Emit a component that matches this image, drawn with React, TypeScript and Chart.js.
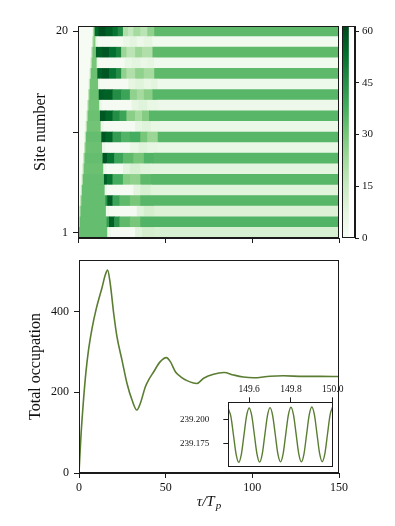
import React, { useEffect, useRef } from 'react';
import { Chart, registerables } from 'chart.js';

Chart.register(...registerables);

// ---------- Heatmap (site occupation vs time) ----------
// Each site row: list of [segment end time, occupation], segments start at the previous end (first at 0).
const HEAT_X_TICKS = [0, 50, 100, 150];
const SITE_TICKS = [1, 10.5, 20];
const CBAR_TICKS = [0, 15, 30, 45, 60];
const CBAR_MIN = 0;
const CBAR_MAX = 61.5;

const SITE_01 = [[0.7, 17], [17, 33], [19, 5], [33, 1], [37, 9], [44, 12], [150, 11]];
const SITE_02 = [[0.5, 0.3], [1.2, 18], [16.6, 33], [18, 42], [21, 56], [24, 44], [30, 34], [36, 30], [150, 36]];
const SITE_03 = [[0.9, 0.3], [1.6, 17], [16.2, 33], [18, 4], [34, 1], [38, 9], [44, 12], [150, 10]];
const SITE_04 = [[1.4, 0.3], [2.1, 18], [15.9, 33], [17, 44], [20, 57], [24, 40], [30, 34], [36, 30], [150, 35]];
const SITE_05 = [[1.8, 0.3], [2.5, 17], [15.5, 33], [17, 4], [32, 1], [36, 8], [42, 11], [150, 9]];
const SITE_06 = [[2.3, 0.3], [3, 18], [15.1, 33], [17, 56], [20, 52], [26, 38], [30, 28], [36, 26], [42, 34], [150, 35]];
const SITE_07 = [[2.8, 0.3], [3.5, 17], [14.7, 32], [16.5, 4], [26, 1], [30, 8], [36, 11], [42, 9], [150, 8]];
const SITE_08 = [[3.2, 0.3], [3.9, 18], [14.3, 33], [17, 58], [21, 52], [26, 40], [32, 34], [38, 30], [44, 36], [150, 35]];
const SITE_09 = [[3.7, 0.3], [4.4, 17], [14, 32], [16, 4], [30, 1], [35, 6], [40, 9], [46, 7], [150, 6]];
const SITE_10 = [[4.1, 0.3], [4.8, 18], [13.6, 33], [16, 58], [20, 55], [25, 42], [30, 36], [36, 38], [40, 30], [46, 24], [150, 35]];
const SITE_11 = [[4.6, 0.3], [5.3, 17], [13.2, 31], [15, 4], [33, 1], [37, 7], [42, 9], [47, 6], [150, 5]];
const SITE_12 = [[5.1, 0.3], [5.8, 18], [12.8, 32], [16, 58], [20, 55], [24, 46], [28, 40], [33, 27], [37, 22], [41, 28], [150, 35]];
const SITE_13 = [[5.5, 0.3], [6.2, 17], [12.4, 31], [14, 5], [31, 1], [35, 7], [40, 9], [46, 6], [150, 4]];
const SITE_14 = [[6.0, 0.3], [6.7, 18], [12.1, 32], [15, 57], [20, 56], [25, 46], [30, 40], [34, 26], [38, 22], [43, 27], [150, 35]];
const SITE_15 = [[6.4, 0.3], [7.1, 17], [11.7, 31], [13, 5], [29, 1], [33, 7], [38, 9], [42, 6], [46, 8], [150, 3.5]];
const SITE_16 = [[6.9, 0.3], [7.6, 18], [11.3, 32], [14, 56], [18, 58], [22, 52], [25, 46], [28, 26], [33, 20], [38, 26], [44, 22], [150, 34]];
const SITE_17 = [[7.4, 0.3], [8.1, 17], [10.9, 30], [12, 5], [27, 1], [31, 6], [36, 8], [40, 5], [44, 7], [150, 3]];
const SITE_18 = [[7.8, 0.3], [8.5, 18], [10.5, 31], [14, 56], [18, 58], [22, 53], [25, 48], [28, 24], [33, 18], [37, 24], [43, 20], [150, 34]];
const SITE_19 = [[8.3, 0.3], [9, 16], [10.2, 28], [11.5, 6], [26, 1], [30, 5], [34, 8], [38, 4], [43, 7], [150, 2.5]];
const SITE_20 = [[8.7, 0.3], [9.2, 18], [9.8, 30], [12, 54], [16, 59], [20, 56], [23, 52], [26, 46], [29, 20], [32, 16], [36, 22], [40, 18], [44, 26], [150, 34]];

const SITE_ROWS = [
  SITE_01, SITE_02, SITE_03, SITE_04, SITE_05, SITE_06, SITE_07, SITE_08, SITE_09, SITE_10,
  SITE_11, SITE_12, SITE_13, SITE_14, SITE_15, SITE_16, SITE_17, SITE_18, SITE_19, SITE_20,
];

// ---------- Total occupation ----------
const TIME = [0, 1.1, 2.6, 4, 5.5, 7.5, 10, 12, 13.2, 15.1, 16.5, 18, 20, 21.9, 24.8, 27.7, 30.6, 33.4, 35.4, 38.3, 40.2, 43.1, 46.9, 50.4, 52.7, 55.6, 58.5, 62.3, 68, 71.9, 77.6, 83.7, 89.1, 94.8, 100.6, 110.2, 117.9, 129.4, 139, 150];
const OCCUPATION = [0, 90, 181, 250, 305, 358, 408, 440, 458, 490, 503, 470, 396, 338, 280, 222, 181, 156, 173, 214, 231, 251, 276, 286, 276, 251, 239, 229, 222, 235, 245, 249, 243, 238, 236, 240, 241, 239.5, 239.5, 239.2];
const OCC_X_TICKS = [0, 50, 100, 150];
const OCC_Y_TICKS = [0, 200, 400];
const OCC_Y_MAX = 528;

// ---------- Inset ----------
const INSET_TIME = [
  149.5, 149.5125, 149.525, 149.5375, 149.55, 149.5625, 149.575, 149.5875,
  149.6, 149.6125, 149.625, 149.6375, 149.65, 149.6625, 149.675, 149.6875,
  149.7, 149.7125, 149.725, 149.7375, 149.75, 149.7625, 149.775, 149.7875,
  149.8, 149.8125, 149.825, 149.8375, 149.85, 149.8625, 149.875, 149.8875,
  149.9, 149.9125, 149.925, 149.9375, 149.95, 149.9625, 149.975, 149.9875, 150.0,
];
const INSET_OCC = [
  239.2110, 239.2028, 239.1831, 239.1635, 239.1552, 239.1635, 239.1835, 239.2035,
  239.2118, 239.2035, 239.1836, 239.1637, 239.1554, 239.1637, 239.1838, 239.2039,
  239.2122, 239.2039, 239.1839, 239.1639, 239.1556, 239.1639, 239.1841, 239.2043,
  239.2126, 239.2043, 239.1842, 239.1640, 239.1557, 239.1640, 239.1842, 239.2045,
  239.2128, 239.2045, 239.1843, 239.1641, 239.1558, 239.1641, 239.1844, 239.2047, 239.2130,
];
const INSET_X_TICKS = [149.6, 149.8, 150.0];
const INSET_Y_TICKS = [239.175, 239.2];
const INSET_X_RANGE = [149.5, 150.0];
const INSET_Y_RANGE = [239.1506, 239.2177];

// ---------- Styles ----------
const FONT = 'Liberation Serif';
const AXIS = '#1a1a1a';
const TEXT = '#111';
const LINE = '#5a7d32';
const GREENS = [
  [247, 252, 245], [229, 245, 224], [199, 233, 192], [161, 217, 155], [116, 196, 118],
  [65, 171, 93], [35, 139, 69], [0, 109, 44], [0, 68, 27],
];

function greens(v: number): string {
  let f = (v - CBAR_MIN) / (CBAR_MAX - CBAR_MIN);
  f = Math.max(0, Math.min(1, f));
  const p = f * (GREENS.length - 1);
  const i = Math.min(GREENS.length - 2, Math.floor(p));
  const k = p - i;
  const a = GREENS[i], b = GREENS[i + 1];
  const c = a.map((x, j) => Math.round(x + (b[j] - x) * k));
  return `rgb(${c[0]},${c[1]},${c[2]})`;
}

const framePlugin = {
  id: 'frame',
  afterDatasetsDraw(chart: any) {
    const { ctx, chartArea } = chart;
    if (!chartArea) return;
    const l = Math.round(chartArea.left) + 0.5;
    const t = Math.round(chartArea.top) + 0.5;
    const r = Math.round(chartArea.right) - 0.5;
    const b = Math.round(chartArea.bottom) - 0.5;
    ctx.save();
    ctx.strokeStyle = AXIS;
    ctx.lineWidth = 1;
    ctx.strokeRect(l, t, r - l, b - t);
    ctx.restore();
  },
};

const xTitlePlugin = {
  id: 'xTitle',
  afterDraw(chart: any) {
    const { ctx, chartArea } = chart;
    const cx = (chartArea.left + chartArea.right) / 2;
    const base = 256;
    ctx.save();
    ctx.fillStyle = TEXT;
    ctx.textBaseline = 'alphabetic';
    ctx.textAlign = 'left';
    const mainFont = `italic 15px "${FONT}"`;
    const subFont = `italic 11px "${FONT}"`;
    ctx.font = mainFont;
    const w1 = ctx.measureText('τ/T').width;
    ctx.font = subFont;
    const w2 = ctx.measureText('p').width;
    const x0 = cx - (w1 + w2 + 1) / 2;
    ctx.font = mainFont;
    ctx.fillText('τ/T', x0, base);
    ctx.font = subFont;
    ctx.fillText('p', x0 + w1 + 1, base + 3);
    ctx.restore();
  },
};

function grid(len = 5) {
  return { display: true, drawOnChartArea: false, drawTicks: true, tickLength: len, tickWidth: 1, tickColor: AXIS, offset: false };
}
const border = { display: true, color: AXIS, width: 1 };
const fixedTicks = (list: number[]) => (s: any) => { s.ticks = list.map((value) => ({ value })); };
const fitH = (h: number) => (s: any) => { s.height = h; s.paddingLeft = 0; s.paddingRight = 0; };
const fitW = (w: number) => (s: any) => { s.width = w; s.paddingTop = 0; s.paddingBottom = 0; };

function heatmapConfig(): any {
  const datasets = SITE_ROWS.map((row, i) => {
    const site = i + 1;
    let t0 = 0;
    const data = row.map(([t1, v]) => {
      const d = { x: [t0, t1], y: site, v };
      t0 = t1;
      return d;
    });
    return {
      data,
      backgroundColor: (c: any) => greens(c.raw ? c.raw.v : 0),
      borderWidth: 0,
      grouped: false,
      categoryPercentage: 1,
      barPercentage: 1,
    };
  });
  return {
    type: 'bar',
    data: { datasets },
    options: {
      indexAxis: 'y',
      animation: false,
      responsive: false,
      events: [],
      layout: { autoPadding: false, padding: { left: 0, top: 26, right: 56, bottom: 0 } },
      plugins: { legend: { display: false }, tooltip: { enabled: false } },
      scales: {
        x: {
          type: 'linear', position: 'bottom', min: 0, max: 150, offset: false,
          afterBuildTicks: fixedTicks(HEAT_X_TICKS),
          ticks: { callback: () => '' },
          grid: grid(5), border,
          afterFit: fitH(12),
        },
        y: {
          type: 'linear', min: 0.5, max: 20.5, offset: false,
          afterBuildTicks: fixedTicks(SITE_TICKS),
          ticks: {
            callback: (v: number) => (v === 1 || v === 20 ? String(v) : ''),
            font: { family: FONT, size: 12 }, color: TEXT, padding: 5,
          },
          grid: grid(5), border,
          title: { display: true, text: 'Site number', color: TEXT, font: { family: FONT, size: 16 }, padding: { top: 31, bottom: 0 } },
          afterFit: fitW(78),
        },
      },
    },
    plugins: [framePlugin],
  };
}

function colorbarConfig(): any {
  return {
    type: 'bar',
    data: {
      labels: ['scale'],
      datasets: [{
        data: [[CBAR_MIN, CBAR_MAX]],
        backgroundColor: (c: any) => {
          const { chart } = c;
          const area = chart.chartArea;
          if (!area) return greens(30);
          const g = chart.ctx.createLinearGradient(0, area.bottom, 0, area.top);
          GREENS.forEach((col, i) => g.addColorStop(i / (GREENS.length - 1), `rgb(${col[0]},${col[1]},${col[2]})`));
          return g;
        },
        borderWidth: 0,
        categoryPercentage: 1,
        barPercentage: 1,
      }],
    },
    options: {
      animation: false,
      responsive: false,
      events: [],
      layout: { autoPadding: false, padding: { left: 12, top: 26, right: 0, bottom: 12 } },
      plugins: { legend: { display: false }, tooltip: { enabled: false } },
      scales: {
        x: { display: false, offset: false },
        y: {
          position: 'right', min: CBAR_MIN, max: CBAR_MAX,
          afterBuildTicks: fixedTicks(CBAR_TICKS),
          ticks: { font: { family: FONT, size: 11 }, color: TEXT, padding: 3 },
          grid: grid(4), border,
          afterFit: fitW(40),
        },
      },
    },
    plugins: [framePlugin],
  };
}

function occupationConfig(): any {
  return {
    type: 'line',
    data: {
      datasets: [{
        data: TIME.map((x, i) => ({ x, y: OCCUPATION[i] })),
        borderColor: LINE, borderWidth: 1.6, pointRadius: 0,
        cubicInterpolationMode: 'monotone', fill: false,
      }],
    },
    options: {
      animation: false,
      responsive: false,
      events: [],
      layout: { autoPadding: false, padding: { left: 0, top: 10, right: 56, bottom: 0 } },
      plugins: { legend: { display: false }, tooltip: { enabled: false } },
      scales: {
        x: {
          type: 'linear', min: 0, max: 150,
          afterBuildTicks: fixedTicks(OCC_X_TICKS),
          ticks: { font: { family: FONT, size: 12 }, color: TEXT, padding: 3, maxRotation: 0 },
          grid: grid(5), border,
          afterFit: fitH(53),
        },
        y: {
          type: 'linear', min: 0, max: OCC_Y_MAX,
          afterBuildTicks: fixedTicks(OCC_Y_TICKS),
          ticks: { font: { family: FONT, size: 12 }, color: TEXT, padding: 5 },
          grid: grid(5), border,
          title: { display: true, text: 'Total occupation', color: TEXT, font: { family: FONT, size: 16 }, padding: { top: 26, bottom: 0 } },
          afterFit: fitW(79),
        },
      },
    },
    plugins: [framePlugin, xTitlePlugin],
  };
}

function insetConfig(): any {
  return {
    type: 'line',
    data: {
      datasets: [{
        data: INSET_TIME.map((x, i) => ({ x, y: INSET_OCC[i] })),
        borderColor: LINE, borderWidth: 1.4, pointRadius: 0,
        cubicInterpolationMode: 'monotone', fill: false,
      }],
    },
    options: {
      animation: false,
      responsive: false,
      events: [],
      layout: { autoPadding: false, padding: { left: 0, top: 0, right: 27.3, bottom: 6.3 } },
      plugins: { legend: { display: false }, tooltip: { enabled: false } },
      scales: {
        x: {
          type: 'linear', position: 'top', min: INSET_X_RANGE[0], max: INSET_X_RANGE[1],
          afterBuildTicks: fixedTicks(INSET_X_TICKS),
          ticks: { callback: (v: number) => v.toFixed(1), font: { family: FONT, size: 9.5 }, color: TEXT, padding: 2, maxRotation: 0 },
          grid: grid(5), border,
          afterFit: fitH(24.3),
        },
        y: {
          type: 'linear', min: INSET_Y_RANGE[0], max: INSET_Y_RANGE[1],
          afterBuildTicks: fixedTicks(INSET_Y_TICKS),
          ticks: { callback: (v: number) => v.toFixed(3), font: { family: FONT, size: 9 }, color: TEXT, padding: 14 },
          grid: grid(5), border,
          afterFit: fitW(68.3),
        },
      },
    },
    plugins: [framePlugin],
  };
}

function ChartCanvas(props: { left: number; top: number; width: number; height: number; make: () => any }) {
  const { left, top, width, height, make } = props;
  const ref = useRef<HTMLCanvasElement | null>(null);
  useEffect(() => {
    if (!ref.current) return;
    const chart = new Chart(ref.current, make());
    return () => chart.destroy();
  }, []);
  return (
    <canvas
      ref={ref}
      width={width}
      height={height}
      style={{ position: 'absolute', left, top, width, height }}
    />
  );
}

export default function App() {
  return (
    <div style={{ position: 'absolute', left: 0, top: 0, width: 395, height: 526, background: '#fff', overflow: 'hidden' }}>
      <ChartCanvas left={0} top={0} width={395} height={250} make={heatmapConfig} />
      <ChartCanvas left={330} top={0} width={65} height={250} make={colorbarConfig} />
      <ChartCanvas left={0} top={250} width={395} height={276} make={occupationConfig} />
      <ChartCanvas left={160} top={378} width={200} height={95} make={insetConfig} />
    </div>
  );
}
